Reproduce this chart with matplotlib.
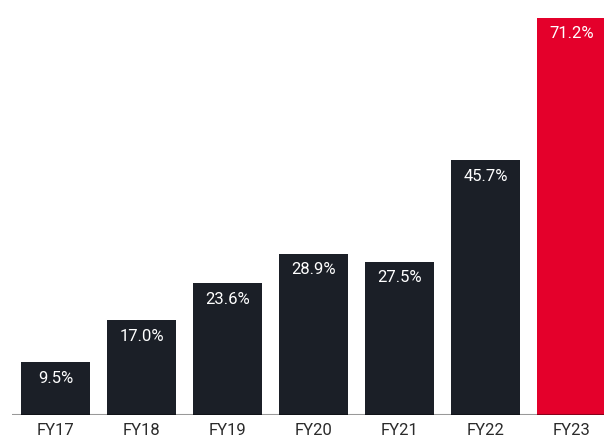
import matplotlib
matplotlib.use("Agg")
import matplotlib.pyplot as plt
from matplotlib.transforms import offset_copy

years = ["FY17", "FY18", "FY19", "FY20", "FY21", "FY22", "FY23"]
values = [9.5, 17.0, 23.6, 28.9, 27.5, 45.7, 71.2]
labels = ["9.5%", "17.0%", "23.6%", "28.9%", "27.5%", "45.7%", "71.2%"]

dark = "#1b1f27"
red = "#e4002b"
colors = [dark] * (len(years) - 1) + [red]

plt.rcParams["font.family"] = ["Roboto", "DejaVu Sans"]

fig = plt.figure(figsize=(6.04, 4.39), dpi=100)
ax = fig.add_axes([12 / 604, 23 / 439, 592 / 604, 397 / 439])

x = list(range(len(years)))
bars = ax.bar(x, values, width=0.8, color=colors, zorder=2)

ax.set_xlim(-0.506, 6.378)
ax.set_ylim(0, 71.2)

for rect, lab in zip(bars, labels):
    cx = rect.get_x() + rect.get_width() / 2
    tr = offset_copy(ax.transData, fig=fig, x=0, y=-15, units="dots")
    ax.text(cx, rect.get_height(), lab, transform=tr, ha="center", va="center",
            color="white", fontsize=12, zorder=3)

for xi, yr in zip(x, years):
    tr = offset_copy(ax.transData, fig=fig, x=0, y=-15, units="dots")
    ax.text(xi, 0, yr, transform=tr, ha="center", va="center",
            color="#2b2b2b", fontsize=12, clip_on=False)

ax.axhline(0, color="black", alpha=0.4, lw=1.5, zorder=4)

for s in ax.spines.values():
    s.set_visible(False)
ax.set_xticks([])
ax.set_yticks([])

fig.savefig("out.png", dpi=100)
